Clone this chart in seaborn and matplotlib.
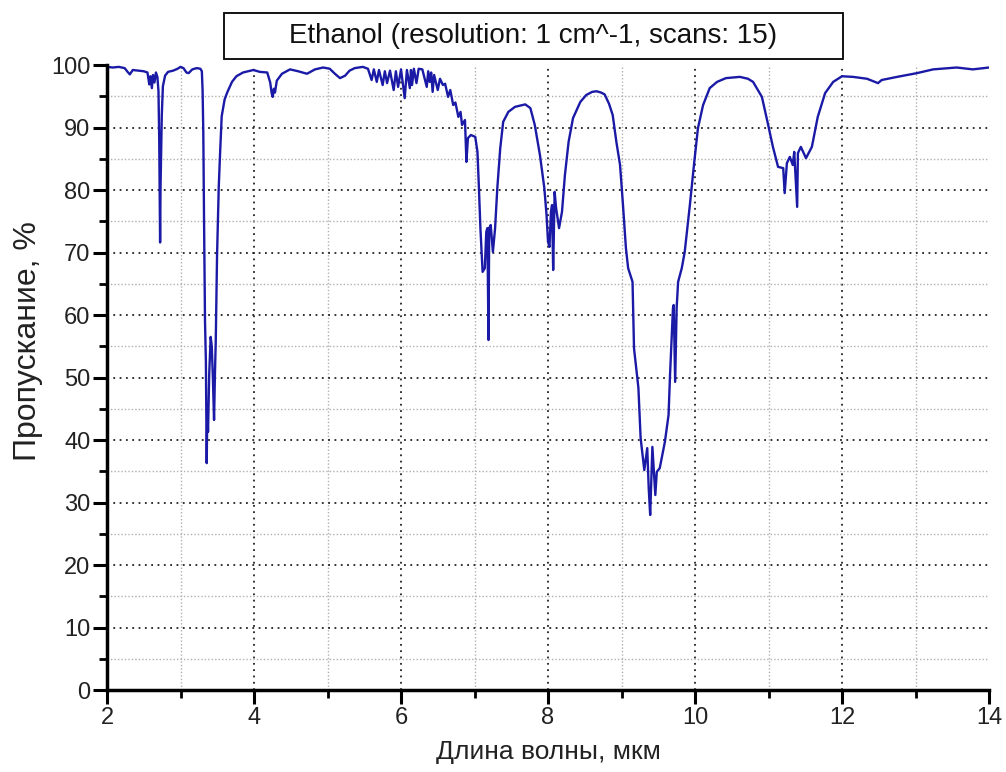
import matplotlib
matplotlib.use("Agg")
import matplotlib.pyplot as plt
from matplotlib.patches import Rectangle
from matplotlib.ticker import MultipleLocator
import seaborn as sns
import pandas as pd

title = "Ethanol (resolution: 1 cm^-1, scans: 15)"
x_label = "Длина волны, мкм"
y_label = "Пропускание, %"

# points (wavelength in um, transmission in %)
wavelength = [
    2.00, 2.08, 2.16, 2.24, 2.28, 2.31, 2.35, 2.42, 2.50, 2.55,
    2.575, 2.59, 2.61, 2.625, 2.645, 2.665, 2.685, 2.70, 2.71, 2.717,
    2.722, 2.728, 2.735, 2.745, 2.76, 2.79, 2.83, 2.90, 2.96, 3.00,
    3.04, 3.08, 3.11, 3.16, 3.22, 3.27, 3.29, 3.30, 3.31, 3.32,
    3.333, 3.345, 3.356, 3.365, 3.374, 3.39, 3.41, 3.425, 3.44, 3.456,
    3.468, 3.479, 3.497, 3.52, 3.537, 3.56, 3.60, 3.635, 3.70, 3.76,
    3.85, 3.99, 4.08, 4.18, 4.22, 4.24, 4.254, 4.27, 4.285, 4.31,
    4.38, 4.49, 4.60, 4.72, 4.83, 4.94, 5.03, 5.10, 5.17, 5.24,
    5.30, 5.37, 5.48, 5.55, 5.60, 5.63, 5.67, 5.70, 5.75, 5.78,
    5.81, 5.85, 5.90, 5.93, 5.96, 6.00, 6.05, 6.08, 6.12, 6.135,
    6.15, 6.175, 6.21, 6.24, 6.29, 6.35, 6.37, 6.39, 6.41, 6.43,
    6.45, 6.50, 6.53, 6.57, 6.60, 6.64, 6.67, 6.71, 6.74, 6.78,
    6.81, 6.83, 6.87, 6.89, 6.91, 6.95, 7.01, 7.04, 7.06, 7.08,
    7.11, 7.14, 7.16, 7.175, 7.19, 7.20, 7.22, 7.25, 7.28, 7.31,
    7.35, 7.39, 7.46, 7.55, 7.62, 7.69, 7.76, 7.82, 7.89, 7.95,
    7.98, 8.00, 8.02, 8.04, 8.055, 8.07, 8.09, 8.11, 8.15, 8.19,
    8.23, 8.28, 8.34, 8.44, 8.52, 8.60, 8.66, 8.72, 8.77, 8.83,
    8.88, 8.93, 8.98, 9.02, 9.06, 9.09, 9.15, 9.17, 9.23, 9.26,
    9.31, 9.35, 9.37, 9.39, 9.42, 9.46, 9.48, 9.52, 9.59, 9.64,
    9.66, 9.70, 9.71, 9.73, 9.75, 9.77, 9.82, 9.86, 9.93, 9.99,
    10.04, 10.11, 10.20, 10.30, 10.42, 10.61, 10.72, 10.79, 10.91, 10.99,
    11.06, 11.13, 11.20, 11.22, 11.25, 11.29, 11.33, 11.35, 11.39, 11.40,
    11.44, 11.51, 11.59, 11.67, 11.77, 11.88, 12.00, 12.15, 12.34, 12.49,
    12.54, 12.75, 13.02, 13.24, 13.56, 13.78, 14.00,
]
transmission = [
    99.7, 99.6, 99.7, 99.5, 98.9, 98.5, 99.2, 99.1, 99.0, 98.8,
    96.9, 98.2, 96.3, 98.4, 97.2, 98.8, 98.1, 95.8, 88.0, 79.0,
    71.6, 80.5, 85.0, 92.0, 96.6, 98.3, 98.9, 99.1, 99.4, 99.7,
    99.5, 98.8, 98.7, 99.3, 99.5, 99.4, 99.0, 96.0, 89.0, 75.0,
    59.0, 52.5, 36.3, 45.0, 41.3, 50.5, 56.5, 55.0, 50.0, 43.2,
    50.5, 55.7, 69.6, 80.5, 85.6, 91.8, 94.5, 95.6, 97.3, 98.2,
    98.8, 99.2, 98.9, 98.8, 97.2, 95.5, 94.9, 96.2, 95.6, 97.5,
    98.6, 99.3, 99.0, 98.6, 99.3, 99.6, 99.4, 98.6, 97.9, 98.3,
    99.1, 99.5, 99.7, 99.4, 97.6, 99.3, 97.3, 99.2, 96.8, 99.0,
    97.1, 99.1, 96.0, 99.0, 96.5, 99.3, 94.7, 99.2, 96.3, 99.2,
    96.8, 99.4, 97.1, 99.4, 99.3, 96.5, 99.0, 97.3, 98.8, 95.7,
    98.4, 96.0, 97.8, 96.8, 97.0, 94.9, 96.0, 93.6, 94.0, 91.7,
    92.5, 90.4, 91.2, 84.5, 88.3, 88.8, 88.5, 86.1, 80.3, 73.9,
    66.9, 67.5, 73.3, 73.9, 56.0, 73.9, 74.4, 70.1, 73.9, 80.3,
    86.7, 90.9, 92.5, 93.3, 93.5, 93.7, 93.1, 90.4, 85.6, 80.3,
    76.0, 71.7, 70.9, 76.5, 77.6, 67.2, 79.7, 77.1, 73.9, 76.5,
    82.4, 87.7, 91.5, 94.1, 95.2, 95.7, 95.8, 95.6, 95.3, 93.8,
    92.0, 87.7, 84.0, 77.6, 70.7, 67.5, 65.3, 54.7, 48.3, 40.3,
    35.2, 38.7, 32.3, 28.0, 38.9, 31.2, 34.9, 35.5, 39.7, 44.0,
    50.4, 61.1, 61.6, 49.3, 61.1, 65.3, 67.5, 70.1, 77.6, 84.5,
    89.9, 93.6, 96.3, 97.3, 97.9, 98.1, 97.8, 97.3, 94.9, 90.7,
    86.9, 83.7, 83.5, 79.5, 84.3, 85.3, 84.0, 86.1, 77.3, 85.9,
    86.9, 85.1, 86.9, 91.7, 95.5, 97.3, 98.2, 98.1, 97.8, 97.1,
    97.6, 98.1, 98.7, 99.3, 99.6, 99.3, 99.6,
]

x_ticks = [2, 4, 6, 8, 10, 12, 14]
y_ticks = [0, 10, 20, 30, 40, 50, 60, 70, 80, 90, 100]

sns.set_theme(style="white")
plt.rcParams["font.family"] = ["Liberation Sans", "DejaVu Sans"]

df = pd.DataFrame({"wl": wavelength, "T": transmission})

fig = plt.figure(figsize=(10.06, 7.72), dpi=100)
ax = fig.add_axes([0.1064, 0.1062, 0.8767, 0.8096])

sns.lineplot(data=df, x="wl", y="T", ax=ax, color="#1a1aa6", lw=1.7,
             estimator=None, sort=False)

ax.set_xlim(2, 14)
ax.set_ylim(0, 100)
ax.set_xticks(x_ticks)
ax.set_yticks(y_ticks)
ax.xaxis.set_minor_locator(MultipleLocator(1))
ax.yaxis.set_minor_locator(MultipleLocator(5))

ax.grid(which="major", color="#222222", linestyle=(0, (1, 2.5)), lw=1.3)
ax.grid(which="minor", color="#b0b0b0", linestyle=(0, (1, 1.5)), lw=1.0)
ax.set_axisbelow(True)
# no grid line on the open top / right edges
ax.xaxis.get_gridlines()[-1].set_visible(False)
ax.yaxis.get_gridlines()[-1].set_visible(False)

for s in ["top", "right"]:
    ax.spines[s].set_visible(False)
for s in ["left", "bottom"]:
    ax.spines[s].set_linewidth(2.5)
    ax.spines[s].set_color("black")

ax.tick_params(which="major", direction="out", length=10, width=2.2,
               colors="black", labelsize=17, pad=2, left=True, bottom=True)
ax.tick_params(which="minor", direction="out", length=6, width=2,
               colors="black", left=True, bottom=True)
for lab in ax.get_xticklabels() + ax.get_yticklabels():
    lab.set_color("#222222")

ax.set_xlabel(x_label, fontsize=19, color="#222222", labelpad=8)
ax.set_ylabel(y_label, fontsize=23, color="#222222")
ax.yaxis.set_label_coords(-0.073, 0.558)

# boxed title
fig.patches.append(Rectangle((0.2227, 0.9236), 0.6153, 0.0596,
                             transform=fig.transFigure, fill=False,
                             edgecolor="black", lw=1.3))
fig.text(0.5303, 0.9534, title, ha="center", va="center",
         fontsize=20, color="#111111")

fig.savefig("out.png", dpi=100)
